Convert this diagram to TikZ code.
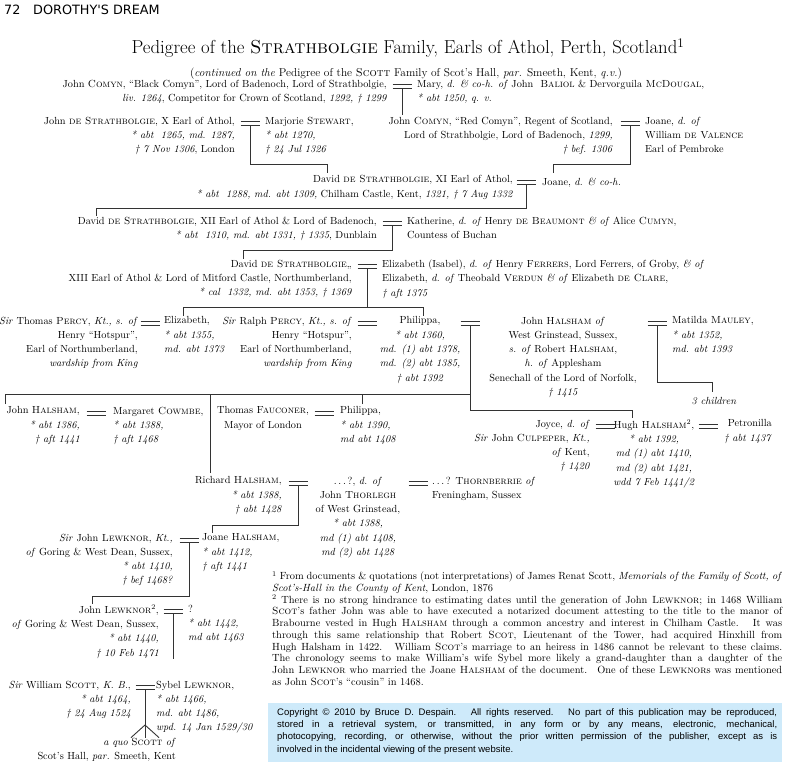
\documentclass[tikz,border=0pt]{standalone}
\usepackage{fontspec}
\newfontfamily\hdrfont{DejaVu Sans}
\newfontfamily\cpyfont{Liberation Sans}
\newcommand\pedfont{\fontsize{10.3}{14.3}\selectfont}
\newcommand\fnfont{\fontsize{10.4}{11.75}\selectfont}
\definecolor{cpyblue}{RGB}{206,234,250}
\tikzset{
  link/.style={draw=black!80, line width=0.9pt},
  pers/.style={inner sep=0pt, font=\pedfont, execute at begin node=\strut},
  rblock/.style={pers, anchor=north east, align=right},
  lblock/.style={pers, anchor=north west, align=left},
  cblock/.style={pers, anchor=north, align=center},
  wed/.style={minimum width=19pt, minimum height=4pt, inner sep=0pt, outer sep=0pt,
    append after command={(\tikzlastnode.north west) edge[link] (\tikzlastnode.north east)
      (\tikzlastnode.south west) edge[link] (\tikzlastnode.south east)}},
}

\begin{document}
\begin{tikzpicture}[x=1pt, y=-1pt]
  \useasboundingbox (0,0) rectangle (788,769);
  % running head and title
  \node[anchor=base west, inner sep=0pt, font=\hdrfont\fontsize{12.8}{14}\selectfont] (pg) at (4,14) {72};
  \node[anchor=base west, inner sep=0pt, font=\hdrfont\fontsize{12.8}{14}\selectfont] (run) at (33,14) {DOROTHY'S DREAM};
  \node[anchor=base, inner sep=0pt, font=\fontsize{18.8}{20}\selectfont] (title) at (408,53.5)
    {Pedigree of the \textsc{Strathbolgie} Family, Earls of Athol, Perth, Scotland\textsuperscript{1}};
  \node[anchor=base, inner sep=0pt, font=\fontsize{11.4}{14}\selectfont] (sub) at (406,76.5)
    {(\textit{continued on the} Pedigree of the \textsc{Scott} Family of Scot’s Hall, \textit{par.} Smeeth, Kent, \textit{q.v.})};

  % generation 1
  \node[rblock] (bcomyn) at (387,79.6) {John \textsc{Comyn}, “Black Comyn”, Lord of Badenoch, Lord of Strathbolgie,\\
    \textit{liv. 1264}, Competitor for Crown of Scotland, \textit{1292, \dag\ 1299}};
  \node[wed] (m1) at (402,86.5) {};
  \node[lblock] (mary) at (417,79.6) {Mary, \textit{d. \& co-h. of} John \ \textsc{Baliol} \& Dervorguila \textsc{McDougal},\\
    \textit{* abt 1250, q. v.}};

  % generation 2
  \node[rblock] (jstrX) at (235,116.6) {John \textsc{de Strathbolgie}, X Earl of Athol,\\
    \textit{* abt \ 1265, md. 1287,}\\ \textit{\dag\ 7 Nov 1306}, London};
  \node[wed] (m2) at (250,123.5) {};
  \node[lblock] (marj) at (265,116.6) {Marjorie \textsc{Stewart},\\ \textit{* abt 1270,}\\ \textit{\dag\ 24 Jul 1326}};
  \node[rblock] (rcomyn) at (613,116.6) {John \textsc{Comyn}, “Red Comyn”, Regent of Scotland,\\
    Lord of Strathbolgie, Lord of Badenoch, \textit{1299,}\\ \textit{\dag\ bef. 1306}};
  \node[wed] (m3) at (630,123.5) {};
  \node[lblock] (joane1) at (645,116.6) {Joane, \textit{d. of}\\ William \textsc{de Valence}\\ Earl of Pembroke};

  % generation 3
  \node[rblock] (dXI) at (513,175.4) {David \textsc{de Strathbolgie}, XI Earl of Athol,\\
    \textit{* abt \ 1288, md. abt 1309,} Chilham Castle, Kent, \textit{1321, \dag\ 7 Aug 1332}};
  \node[wed] (m4) at (526,182.5) {};
  \node[lblock] (joane2) at (542,175.4) {Joane, \textit{d. \& co-h.}};

  % generation 4
  \node[rblock] (dXII) at (377,216.6) {David \textsc{de Strathbolgie}, XII Earl of Athol \& Lord of Badenoch,\\
    \textit{* abt \ 1310, md. abt 1331, \dag\ 1335}, Dunblain};
  \node[wed] (m5) at (392,223.5) {};
  \node[lblock] (kath) at (407,216.6) {Katherine, \textit{d. of} Henry \textsc{de Beaumont} \textit{\& of} Alice \textsc{Cumyn},\\
    Countess of Buchan};

  % generation 5
  \node[rblock] (dXIII) at (352,259.6) {David \textsc{de Strathbolgie},,\\
    XIII Earl of Athol \& Lord of Mitford Castle, Northumberland,\\ \textit{* cal \ 1332, md. abt 1353, \dag\ 1369}};
  \node[wed] (m6) at (367,266.5) {};
  \node[lblock] (eliz1) at (382,259.6) {Elizabeth (Isabel), \textit{d. of} Henry \textsc{Ferrers}, Lord Ferrers, of Groby, \textit{\& of}\\
    Elizabeth, \textit{d. of} Theobald \textsc{Verdun} \textit{\& of} Elizabeth \textsc{de Clare},\\ \textit{\dag\ aft 1375}};

  % generation 6
  \node[rblock] (tpercy) at (138,316.6) {\textit{Sir} Thomas \textsc{Percy}, \textit{Kt., s. of}\\ Henry “Hotspur”,\\
    Earl of Northumberland,\\ \textit{wardship from King}};
  \node[wed] (m7) at (150,323.5) {};
  \node[lblock] (eliz2) at (164,316.6) {Elizabeth,\\ \textit{* abt 1355,}\\ \textit{md. abt 1373}};
  \node[rblock] (rpercy) at (352,316.6) {\textit{Sir} Ralph \textsc{Percy}, \textit{Kt., s. of}\\ Henry “Hotspur”,\\
    Earl of Northumberland,\\ \textit{wardship from King}};
  \node[wed] (m8) at (367,323.5) {};
  \node[cblock] (phil1) at (420,316.6) {Philippa,\\ \textit{* abt 1360,}\\ \textit{md. (1) abt 1378,}\\
    \textit{md. (2) abt 1385,}\\ \textit{\dag\ abt 1392}};
  \node[wed] (m9) at (470,323.5) {};
  \node[cblock] (jhal1) at (563,316.6) {John \textsc{Halsham} \textit{of}\\ West Grinstead, Sussex,\\
    \textit{s. of} Robert \textsc{Halsham},\\ \textit{h. of} Applesham\\ Senechall of the Lord of Norfolk,\\ \textit{\dag\ 1415}};
  \node[wed] (m10) at (657,323.5) {};
  \node[lblock] (matil) at (672,316.6) {Matilda \textsc{Mauley},\\ \textit{* abt 1352,}\\ \textit{md. abt 1393}};
  \node[cblock] (three) at (714,394.6) {\textit{3 children}};

  % generation 7
  \node[rblock] (jhal2) at (80,406.6) {John \textsc{Halsham},\\ \textit{* abt 1386,}\\ \textit{\dag\ aft 1441}};
  \node[wed] (m11) at (96,413.5) {};
  \node[lblock] (marg) at (113,406.6) {Margaret \textsc{Cowmbe},\\ \textit{* abt 1388,}\\ \textit{\dag\ aft 1468}};
  \node[cblock] (fauc) at (263,406.6) {Thomas \textsc{Fauconer},\\ Mayor of London};
  \node[wed] (m12) at (324,413.5) {};
  \node[lblock] (phil2) at (340,406.6) {Philippa,\\ \textit{* abt 1390,}\\ \textit{md abt 1408}};
  \node[rblock] (joyce) at (590,419.6) {Joyce, \textit{d. of}\\ \textit{Sir} John \textsc{Culpeper}, \textit{Kt.,}\\
    \textit{of} Kent,\\ \textit{\dag\ 1420}};
  \node[wed] (m13) at (605,426.5) {};
  \node[cblock] (hugh) at (654,419.6) {Hugh \textsc{Halsham}\textsuperscript{2},\\ \textit{* abt 1392,}\\
    \textit{md (1) abt 1410,}\\ \textit{md (2) abt 1421,}\\ \textit{wdd 7 Feb 1441/2}};
  \node[wed] (m14) at (708,426.5) {};
  \node[rblock] (petr) at (772,419.6) {Petronilla\\ \textit{\dag\ abt 1437}};

  % generation 8
  \node[rblock] (rich) at (282,476.6) {Richard \textsc{Halsham},\\ \textit{* abt 1388,}\\ \textit{\dag\ abt 1428}};
  \node[wed] (m15) at (298,483.5) {};
  \node[cblock] (thorl) at (358,476.6) {.\,.\,.\,?, \textit{d. of}\\ John \textsc{Thorlegh}\\ of West Grinstead,\\
    \textit{* abt 1388,}\\ \textit{md (1) abt 1408,}\\ \textit{md (2) abt 1428}};
  \node[wed] (m16) at (418,483.5) {};
  \node[lblock] (thorn) at (432,476.6) {.\,.\,.\,? \textsc{Thornberrie} \textit{of}\\ Freningham, Sussex};

  % generation 9
  \node[rblock] (lewk1) at (173,533.6) {\textit{Sir} John \textsc{Lewknor}, \textit{Kt.,}\\
    \textit{of} Goring \& West Dean, Sussex,\\ \textit{* abt 1410,}\\ \textit{\dag\ bef 1468?}};
  \node[wed] (m17) at (189,540.5) {};
  \node[lblock] (joane3) at (202,533.6) {Joane \textsc{Halsham},\\ \textit{* abt 1412,}\\ \textit{\dag\ aft 1441}};

  % generation 10
  \node[rblock] (lewk2) at (159,604.6) {John \textsc{Lewknor}\textsuperscript{2},\\
    \textit{of} Goring \& West Dean, Sussex,\\ \textit{* abt 1440,}\\ \textit{\dag\ 10 Feb 1471}};
  \node[wed] (m18) at (173,611.5) {};
  \node[lblock] (unkn) at (188,604.6) {?\\ \textit{* abt 1442,}\\ \textit{md abt 1463}};

  % generation 11
  \node[rblock] (scott) at (131,680.6) {\textit{Sir} William \textsc{Scott}, \textit{K. B.},\\ \textit{* abt 1464,}\\ \textit{\dag\ 24 Aug 1524}};
  \node[wed] (m19) at (145,687.5) {};
  \node[lblock] (sybel) at (156,680.6) {Sybel \textsc{Lewknor},\\ \textit{* abt 1466,}\\ \textit{md. abt 1486,}\\ \textit{wpd. 14 Jan 1529/30}};
  \node[rblock] (aquo) at (176,737.6) {\textit{a quo} \textsc{Scott} \textit{of}\\ Scot’s Hall, \textit{par.} Smeeth, Kent};

  % descent lines
  \coordinate (t-rcomyn) at (402,115);
  \coordinate (t-dXI) at (327,173);
  \coordinate (t-joane2) at (553,173);
  \coordinate (t-dXII) at (96,216);
  \coordinate (t-dXIII) at (243,259);
  \coordinate (b6) at (183,307);
  \coordinate (t-eliz2) at (183,316);
  \coordinate (t-phil1) at (423,316);
  \coordinate (t-three) at (712,392);
  \coordinate (b9) at (5,394);
  \coordinate (t-jhal2) at (5,404);
  \coordinate (t-rich) at (210,473);
  \coordinate (t-phil2) at (362,404);
  \coordinate (t-hugh) at (632,418);
  \coordinate (t-joane3) at (212,533);
  \coordinate (t-lewk2) at (92,604);
  \coordinate (t-sybel) at (173,659);
  \coordinate (f0) at (145,725);

  \draw[link] (m1.south) -- (t-rcomyn);
  \draw[link] (m2.south) |- ([yshift=9pt]t-dXI) -- (t-dXI);
  \draw[link] (m3.south) |- ([yshift=9pt]t-joane2) -- (t-joane2);
  \draw[link] (m4.south) |- ([yshift=8pt]t-dXII) -- (t-dXII);
  \draw[link] (m5.south) |- ([yshift=9pt]t-dXIII) -- (t-dXIII);
  \draw[link] (m6.south) -- (m6.south |- b6);
  \draw[link] (t-eliz2) -- (b6) -- (t-phil1 |- b6) -- (t-phil1);
  \draw[link] (m10.south) |- ([yshift=10pt]t-three) -- (t-three);
  \draw[link] (t-jhal2) -- (b9) -- (m9.south |- b9);
  \draw[link] (m9.south) |- ([yshift=8pt]t-hugh) -- (t-hugh);
  \draw[link] (t-rich) -- (t-rich |- b9);
  \draw[link] (t-phil2) -- (t-phil2 |- b9);
  \draw[link] (m15.south) |- ([yshift=8pt]t-joane3) -- (t-joane3);
  \draw[link] (m17.south) |- ([yshift=8pt]t-lewk2) -- (t-lewk2);
  \draw[link] (m18.south) -- (t-sybel);
  \draw[link] (m19.south) -- (f0);
  \foreach \dx in {-14,0,14}{\draw[link] (f0) -- ([xshift=\dx pt]f0 |- aquo.north);}

  % footnotes
  \node[anchor=north west, inner sep=0pt, text width=510pt, align=justify, font=\fnfont,
    execute at begin node=\strut] (notes) at (272,571) {%
    \textsuperscript{1} From documents \& quotations (not interpretations) of James Renat Scott, \textit{Memorials of the Family of Scott, of}\linebreak
    \textit{Scot’s-Hall in the County of Kent}, London, 1876\par
    \textsuperscript{2} There is no strong hindrance to estimating dates until the generation of John \textsc{Lewknor}; in 1468 William\linebreak
    \textsc{Scot}’s father John was able to have executed a notarized document attesting to the title to the manor of\linebreak
    Brabourne vested in Hugh \textsc{Halsham} through a common ancestry and interest in Chilham Castle. \ It was\linebreak
    through this same relationship that Robert \textsc{Scot}, Lieutenant of the Tower, had acquired Hinxhill from\linebreak
    Hugh Halsham in 1422. \ William \textsc{Scot}’s marriage to an heiress in 1486 cannot be relevant to these claims.\linebreak
    The chronology seems to make William’s wife Sybel more likely a grand-daughter than a daughter of the\linebreak
    John \textsc{Lewknor} who married the Joane \textsc{Halsham} of the document. \ One of these \textsc{Lewknor}s was mentioned\linebreak
    as John \textsc{Scot}’s “cousin” in 1468.};

  % copyright box
  \fill[cpyblue] (268,703) rectangle (782,762);
  \node[anchor=north west, inner sep=0pt, text width=500pt, align=justify,
    font=\cpyfont\fontsize{9.5}{12.4}\selectfont, execute at begin node=\strut] (copy) at (277,706.3) {%
    Copyright © 2010 by Bruce D. Despain. \ All rights reserved. \ No part of this publication may be reproduced,\linebreak
    stored in a retrieval system, or transmitted, in any form or by any means, electronic, mechanical,\linebreak
    photocopying, recording, or otherwise, without the prior written permission of the publisher, except as is\linebreak
    involved in the incidental viewing of the present website.};
\end{tikzpicture}
\end{document}
